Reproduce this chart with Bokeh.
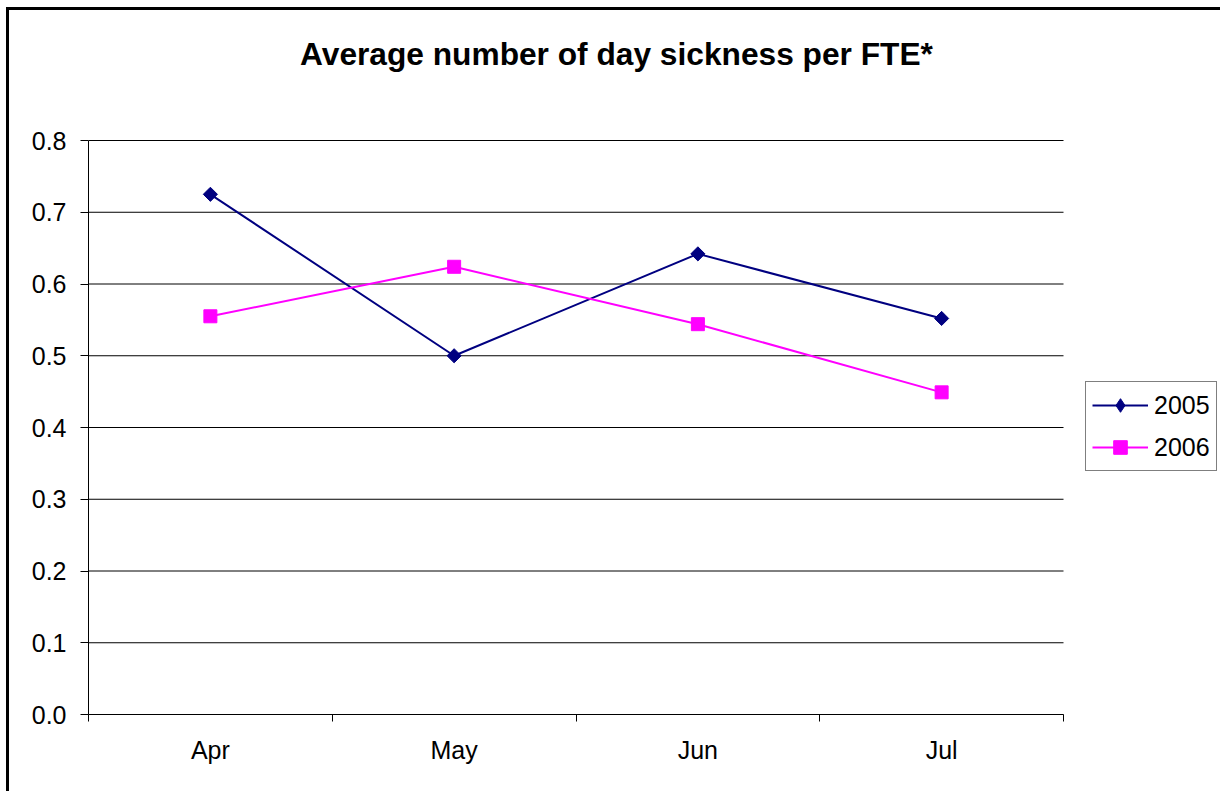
import math
from bokeh.plotting import figure
from bokeh.models import (FixedTicker, Legend, LegendItem, Range1d, Label)
from bokeh.embed import file_html
from bokeh.resources import INLINE

months = ["Apr", "May", "Jun", "Jul"]
sick_2005 = [0.725, 0.500, 0.642, 0.552]
sick_2006 = [0.555, 0.624, 0.544, 0.449]
y_ticks = [0.0, 0.1, 0.2, 0.3, 0.4, 0.5, 0.6, 0.7, 0.8]

FONT = "Liberation Sans"

# month slots sit between category boundaries
n = len(months)
xs = [i + 0.5 for i in range(n)]
y_top = y_ticks[-1]

# layout in pixels: the plotted area is 975 x 574; the frame is extended up and
# to the right so the title and legend share it, with grid and axes bounded.
PLOT_W, PLOT_H = 975, 574
FRAME_W, FRAME_H = 1132, 704
x_end = n * FRAME_W / PLOT_W
y_end = y_top * FRAME_H / PLOT_H

p = figure(frame_width=FRAME_W, frame_height=FRAME_H, output_backend="svg",
           toolbar_location=None,
           x_range=Range1d(0, x_end), y_range=Range1d(0, y_end),
           min_border_left=79, min_border_right=0, min_border_top=0,
           min_border_bottom=77, title=None)
p.styles = {"margin-left": "6px", "margin-top": "7px",
            "border-left": "3px solid black", "border-top": "3px solid black"}
p.outline_line_color = None
p.background_fill_color = "white"
p.border_fill_color = "white"

# title centred across the whole chart
title = Label(x=2.166, y=0.92,
              text="Average number of day sickness per FTE*",
              text_font=FONT, text_font_size="31.7px", text_font_style="bold",
              text_color="black", text_align="center", text_baseline="middle")
p.add_layout(title)

# horizontal gridlines spanning the plotted area only
p.xgrid.visible = False
p.ygrid.visible = False
p.segment(x0=[0] * len(y_ticks), x1=[n] * len(y_ticks), y0=y_ticks, y1=y_ticks,
          line_color="black", line_width=1)

# x axis: labels at the slot centres, tick marks on the boundaries
p.xaxis.bounds = (0, n)
p.xaxis.ticker = FixedTicker(ticks=xs, minor_ticks=list(range(n + 1)))
p.xaxis.major_label_overrides = {x: m for x, m in zip(xs, months)}
p.xaxis.major_tick_out = 0
p.xaxis.major_tick_in = 0
p.xaxis.minor_tick_out = 7
p.xaxis.minor_tick_in = 0
p.xaxis.minor_tick_line_color = "black"
p.xaxis.axis_line_color = "black"
p.xaxis.major_label_text_font = FONT
p.xaxis.major_label_text_font_size = "25px"
p.xaxis.major_label_text_color = "black"
p.xaxis.major_label_standoff = 14

p.yaxis.bounds = (0, y_top)
p.yaxis.ticker = FixedTicker(ticks=y_ticks, minor_ticks=[])
p.yaxis.major_label_overrides = {v: f"{v:.1f}" for v in y_ticks}
p.yaxis.major_tick_out = 8
p.yaxis.major_tick_in = 0
p.yaxis.major_tick_line_color = "black"
p.yaxis.axis_line_color = "black"
p.yaxis.major_label_text_font = FONT
p.yaxis.major_label_text_font_size = "25px"
p.yaxis.major_label_text_color = "black"
p.yaxis.major_label_standoff = 14

navy = "#000080"
magenta = "#FF00FF"
l1 = p.line(xs, sick_2005, line_color=navy, line_width=2)
# narrow diamond key for the legend, covered by the rotated-square markers
d1 = p.scatter(xs, sick_2005, marker="diamond", size=9, fill_color=navy, line_color=navy)
m1 = p.scatter(xs, sick_2005, marker="square", angle=math.pi / 4, size=10,
               fill_color=navy, line_color=navy)
l2 = p.line(xs, sick_2006, line_color=magenta, line_width=2)
m2 = p.scatter(xs, sick_2006, marker="square", size=13, fill_color=magenta, line_color=magenta)

legend = Legend(items=[LegendItem(label="2005", renderers=[l1, d1]),
                       LegendItem(label="2006", renderers=[l2, m2])],
                location=(997, 243), border_line_color="black", border_line_width=1,
                label_text_font=FONT, label_text_font_size="25px",
                label_text_color="black", glyph_width=56, glyph_height=34,
                label_standoff=6, spacing=8, padding=6, margin=0,
                background_fill_alpha=1)
p.add_layout(legend, "center")

open("out.html", "w").write(file_html(p, INLINE))
